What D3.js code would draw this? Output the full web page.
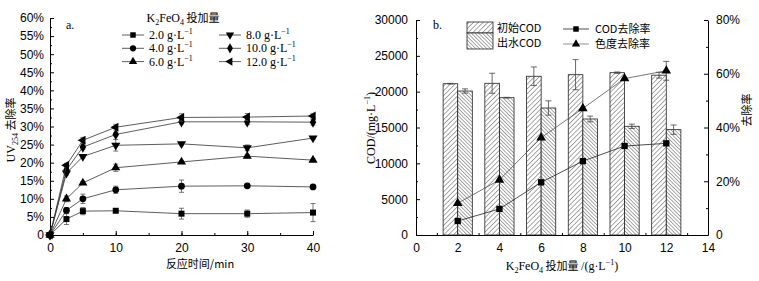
<!DOCTYPE html>
<html>
<head>
<meta charset="utf-8">
<script src="https://cdn.jsdelivr.net/npm/d3@7"></script>
<style>
body { margin: 0; background: #fff; }
svg { font-family: "Liberation Serif", "Times New Roman", serif; }
.cjk { font-family: "Noto Sans CJK SC", sans-serif; }
</style>
</head>
<body>
<script>
const width = 759;
const height = 281;

// ---- chart a: UV254 removal vs time ----
const times = [0, 2.5, 5, 10, 20, 30, 40];
const doseNames = ["2.0 g·L", "4.0 g·L", "6.0 g·L", "8.0 g·L", "10.0 g·L", "12.0 g·L"];
const uv2 = [0, 4.4, 6.6, 6.7, 5.9, 5.9, 6.2];
const uv4 = [0, 6.8, 10.0, 12.5, 13.5, 13.6, 13.3];
const uv6 = [0, 10.0, 14.4, 18.6, 20.2, 21.8, 20.7];
const uv8 = [0, 17.1, 21.7, 24.8, 25.2, 24.1, 26.8];
const uv10 = [0, 18.0, 24.3, 27.8, 31.3, 31.3, 31.2];
const uv12 = [0, 19.3, 26.2, 29.8, 32.5, 32.6, 32.9];
const err2 = [0, 1.5, 1.0, 0.3, 1.5, 1.0, 2.5];
const err4 = [0, 0.8, 1.3, 1.0, 1.7, 0.3, 0.3];
const err6 = [0, 0.8, 0.4, 1.0, 0.3, 0.5, 0.3];
const err8 = [0, 0.5, 0.4, 1.6, 0.4, 0.8, 0.3];
const err10 = [0, 0.5, 0.5, 0.4, 0.6, 0.8, 0.8];
const err12 = [0, 0.5, 0.8, 0.8, 1.0, 1.0, 0.6];
const uvSeries = [uv2, uv4, uv6, uv8, uv10, uv12];
const uvErrors = [err2, err4, err6, err8, err10, err12];
const markerTypes = ["square", "circle", "up", "down", "diamond", "left"];

// ---- chart b: COD vs dosage ----
const doses = [2, 4, 6, 8, 10, 12];
const codInit = [21110, 21170, 22150, 22370, 22650, 22300];
const codInitErr = [50, 1400, 1300, 2100, 100, 400];
const codOut = [20090, 19160, 17720, 16190, 15170, 14700];
const codOutErr = [300, 50, 1000, 400, 300, 650];
const codRate = [5.2, 9.7, 19.6, 27.5, 33.1, 34.1];
const colorRate = [11.8, 20.5, 36.2, 47.1, 58.2, 61.1];
const colorRateErr = [0, 0, 0, 0, 0, 3.5];

const svg = d3.select("body").append("svg")
    .attr("width", width)
    .attr("height", height);

const defs = svg.append("defs");
function hatch(id, spacing, dir) {
    const p = defs.append("pattern")
        .attr("id", id)
        .attr("patternUnits", "userSpaceOnUse")
        .attr("width", spacing).attr("height", spacing)
        .attr("patternTransform", "rotate(" + dir + ")");
    p.append("rect").attr("width", spacing).attr("height", spacing).attr("fill", "#fff");
    p.append("line").attr("x1", 0).attr("y1", 0).attr("x2", 0).attr("y2", spacing)
        .attr("stroke", "#222").attr("stroke-width", 0.8);
}
hatch("hatchA", 3.4, 45);
hatch("hatchB", 2.6, -45);

function marker(g, type, x, y, s, fill) {
    const sym = {
        square: d3.symbolSquare, circle: d3.symbolCircle, up: d3.symbolTriangle,
        down: d3.symbolTriangle, diamond: d3.symbolDiamond, left: d3.symbolTriangle
    }[type];
    const rot = { down: 180, left: -90 }[type] || 0;
    g.append("path")
        .attr("d", d3.symbol().type(sym).size(s)())
        .attr("transform", `translate(${x},${y}) rotate(${rot})`)
        .attr("fill", fill || "#000");
}

function styleAxis(g) {
    g.select(".domain").attr("stroke", "#000");
    g.selectAll(".tick line").attr("stroke", "#000");
    g.selectAll("text").attr("font-size", 12).attr("fill", "#000");
}

// ===== chart a =====
const xa = d3.scaleLinear().domain([0, 40]).range([50, 313]);
const ya = d3.scaleLinear().domain([0, 60]).range([235, 18]);
const pct = d => d === 0 ? "0" : d + "%";

const ga = svg.append("g");
ga.append("g").attr("transform", "translate(0,235)")
    .call(d3.axisBottom(xa).tickValues(d3.range(5, 40, 5)).tickSize(-2).tickFormat(""))
    .call(g => g.select(".domain").remove())
    .call(styleAxis);
ga.append("g").attr("transform", "translate(0,235)")
    .call(d3.axisBottom(xa).tickValues([0, 10, 20, 30, 40]).tickSize(-4).tickPadding(8).tickSizeOuter(0))
    .call(styleAxis);
ga.append("g").attr("transform", "translate(50,0)")
    .call(d3.axisLeft(ya).tickValues(d3.range(2.5, 60, 5)).tickSize(-2).tickFormat(""))
    .call(g => g.select(".domain").remove())
    .call(styleAxis);
ga.append("g").attr("transform", "translate(50,0)")
    .call(d3.axisLeft(ya).tickValues(d3.range(0, 61, 5)).tickSize(-4).tickPadding(6).tickSizeOuter(0).tickFormat(pct))
    .call(styleAxis);

uvSeries.forEach((vals, si) => {
    const pts = times.map((t, i) => [xa(t), ya(vals[i])]);
    ga.append("path")
        .attr("d", d3.line()(pts))
        .attr("fill", "none").attr("stroke", "#333").attr("stroke-width", 0.8);
    times.forEach((t, i) => {
        const e = uvErrors[si][i];
        if (e > 0.2) {
            const x = xa(t), y1 = ya(vals[i] + e), y2 = ya(vals[i] - e);
            ga.append("line").attr("x1", x).attr("x2", x).attr("y1", y1).attr("y2", y2)
                .attr("stroke", "#555").attr("stroke-width", 0.8);
            [y1, y2].forEach(y => ga.append("line").attr("x1", x - 2.5).attr("x2", x + 2.5)
                .attr("y1", y).attr("y2", y).attr("stroke", "#555").attr("stroke-width", 0.8));
        }
        marker(ga, markerTypes[si], xa(t), ya(vals[i]), 36);
    });
});

ga.append("text").attr("x", 66).attr("y", 29).attr("font-size", 12).text("a.");
const ta = ga.append("text").attr("x", 183).attr("y", 22).attr("text-anchor", "middle").attr("font-size", 12);
ta.append("tspan").text("K");
ta.append("tspan").attr("font-size", 8).attr("dy", 3).text("2");
ta.append("tspan").attr("dy", -3).text("FeO");
ta.append("tspan").attr("font-size", 8).attr("dy", 3).text("4");
ta.append("tspan").attr("dy", -3).attr("class", "cjk").attr("font-size", 11).text(" 投加量");

doseNames.forEach((name, i) => {
    const col = i < 3 ? 0 : 1;
    const row = i % 3;
    const x0 = col === 0 ? 122 : 219;
    const y = 35 + row * 13.3;
    ga.append("line").attr("x1", x0).attr("x2", x0 + 22).attr("y1", y).attr("y2", y)
        .attr("stroke", "#333").attr("stroke-width", 0.8);
    marker(ga, markerTypes[i], x0 + 11, y, 30);
    const t = ga.append("text").attr("x", x0 + 27).attr("y", y + 4).attr("font-size", 12);
    t.append("tspan").text(name);
    t.append("tspan").attr("font-size", 8).attr("dy", -5).text("−1");
});

const yla = ga.append("text").attr("transform", "translate(15,130) rotate(-90)")
    .attr("text-anchor", "middle").attr("font-size", 12);
yla.append("tspan").text("UV");
yla.append("tspan").attr("font-size", 8).attr("dy", 3).text("254");
yla.append("tspan").attr("dy", -3).attr("class", "cjk").attr("font-size", 11).text(" 去除率");
ga.append("text").attr("x", 200).attr("y", 268).attr("text-anchor", "middle")
    .attr("class", "cjk").attr("font-size", 11).text("反应时间/min");

// ===== chart b =====
const xb = d3.scaleLinear().domain([0, 14]).range([416, 708]);
const yb = d3.scaleLinear().domain([0, 30000]).range([235, 20]);
const yr = d3.scaleLinear().domain([0, 80]).range([235, 20]);
const gb = svg.append("g");

gb.append("g").attr("transform", "translate(0,235)")
    .call(d3.axisBottom(xb).tickValues(d3.range(1, 14, 2)).tickSize(-2).tickFormat(""))
    .call(g => g.select(".domain").remove())
    .call(styleAxis);
gb.append("g").attr("transform", "translate(0,235)")
    .call(d3.axisBottom(xb).tickValues(d3.range(0, 15, 2)).tickSize(-4).tickPadding(8).tickSizeOuter(0))
    .call(styleAxis);
gb.append("g").attr("transform", "translate(416,0)")
    .call(d3.axisLeft(yb).tickValues(d3.range(2500, 30000, 5000)).tickSize(-2).tickFormat(""))
    .call(g => g.select(".domain").remove())
    .call(styleAxis);
gb.append("g").attr("transform", "translate(416,0)")
    .call(d3.axisLeft(yb).tickValues(d3.range(0, 30001, 5000)).tickSize(-4).tickPadding(8).tickSizeOuter(0).tickFormat(d3.format("d")))
    .call(styleAxis);
gb.append("g").attr("transform", "translate(708,0)")
    .call(d3.axisRight(yr).tickValues(d3.range(10, 80, 20)).tickSize(-2).tickFormat(""))
    .call(g => g.select(".domain").remove())
    .call(styleAxis);
gb.append("g").attr("transform", "translate(708,0)")
    .call(d3.axisRight(yr).tickValues(d3.range(0, 81, 20)).tickSize(-4).tickPadding(8).tickSizeOuter(0).tickFormat(pct))
    .call(styleAxis);

const bw = 0.7;
function bars(vals, errs, offset, fill) {
    doses.forEach((d, i) => {
        const x0 = xb(d + offset);
        const w = xb(d + offset + bw) - x0;
        gb.append("rect").attr("x", x0).attr("y", yb(vals[i]))
            .attr("width", w).attr("height", yb(0) - yb(vals[i]))
            .attr("fill", fill).attr("stroke", "#222").attr("stroke-width", 0.8);
        const cx = x0 + w / 2, y1 = yb(vals[i] + errs[i]), y2 = yb(vals[i] - errs[i]);
        gb.append("line").attr("x1", cx).attr("x2", cx).attr("y1", y1).attr("y2", y2)
            .attr("stroke", "#444").attr("stroke-width", 0.8);
        [y1, y2].forEach(y => gb.append("line").attr("x1", cx - 3).attr("x2", cx + 3)
            .attr("y1", y).attr("y2", y).attr("stroke", "#444").attr("stroke-width", 0.8));
    });
}
bars(codInit, codInitErr, -bw, "url(#hatchA)");
bars(codOut, codOutErr, 0, "url(#hatchB)");

function rateLine(vals, errs, type, color) {
    gb.append("path")
        .attr("d", d3.line().x((v, i) => xb(doses[i])).y(v => yr(v))(vals))
        .attr("fill", "none").attr("stroke", color).attr("stroke-width", 0.8);
    doses.forEach((d, i) => {
        if (errs[i] > 0) {
            const x = xb(d), y1 = yr(vals[i] + errs[i]), y2 = yr(vals[i] - errs[i]);
            gb.append("line").attr("x1", x).attr("x2", x).attr("y1", y1).attr("y2", y2)
                .attr("stroke", "#444").attr("stroke-width", 0.8);
            [y1, y2].forEach(y => gb.append("line").attr("x1", x - 3).attr("x2", x + 3)
                .attr("y1", y).attr("y2", y).attr("stroke", "#444").attr("stroke-width", 0.8));
        }
        marker(gb, type, xb(d), yr(vals[i]), 40);
    });
}
rateLine(codRate, [0, 0, 0, 0, 0, 0], "square", "#222");
rateLine(colorRate, colorRateErr, "up", "#555");

gb.append("text").attr("x", 433).attr("y", 29).attr("font-size", 12).text("b.");
gb.append("rect").attr("x", 467).attr("y", 22).attr("width", 26).attr("height", 11)
    .attr("fill", "url(#hatchA)").attr("stroke", "#222").attr("stroke-width", 0.8);
gb.append("rect").attr("x", 467).attr("y", 33).attr("width", 26).attr("height", 16)
    .attr("fill", "url(#hatchB)").attr("stroke", "#222").attr("stroke-width", 0.8);
[["初始COD", 32], ["出水COD", 47]].forEach(([t, y]) => {
    gb.append("text").attr("x", 497).attr("y", y).attr("font-size", 11)
        .attr("class", "cjk").text(t);
});
[["COD去除率", 29, "square", "#222"], ["色度去除率", 44, "up", "#777"]].forEach(([t, y, m, c]) => {
    gb.append("line").attr("x1", 563).attr("x2", 589).attr("y1", y).attr("y2", y)
        .attr("stroke", c).attr("stroke-width", 0.8);
    marker(gb, m, 576, y, 30);
    gb.append("text").attr("x", 595).attr("y", y + 4).attr("font-size", 11)
        .attr("class", "cjk").text(t);
});

const ylb = gb.append("text").attr("transform", "translate(375,128) rotate(-90)")
    .attr("text-anchor", "middle").attr("font-size", 12);
ylb.append("tspan").text("COD/(mg·L");
ylb.append("tspan").attr("font-size", 8).attr("dy", -5).text("−1");
ylb.append("tspan").attr("dy", 5).text(")");
gb.append("text").attr("transform", "translate(751,110) rotate(-90)")
    .attr("text-anchor", "middle").attr("class", "cjk").attr("font-size", 11).text("去除率");

const xlb = gb.append("text").attr("x", 562).attr("y", 270).attr("text-anchor", "middle").attr("font-size", 12);
xlb.append("tspan").text("K");
xlb.append("tspan").attr("font-size", 8).attr("dy", 3).text("2");
xlb.append("tspan").attr("dy", -3).text("FeO");
xlb.append("tspan").attr("font-size", 8).attr("dy", 3).text("4");
xlb.append("tspan").attr("dy", -3).attr("class", "cjk").attr("font-size", 11).text(" 投加量 ");
xlb.append("tspan").text("/(g·L");
xlb.append("tspan").attr("font-size", 8).attr("dy", -5).text("−1");
xlb.append("tspan").attr("dy", 5).text(")");
</script>
</body>
</html>
